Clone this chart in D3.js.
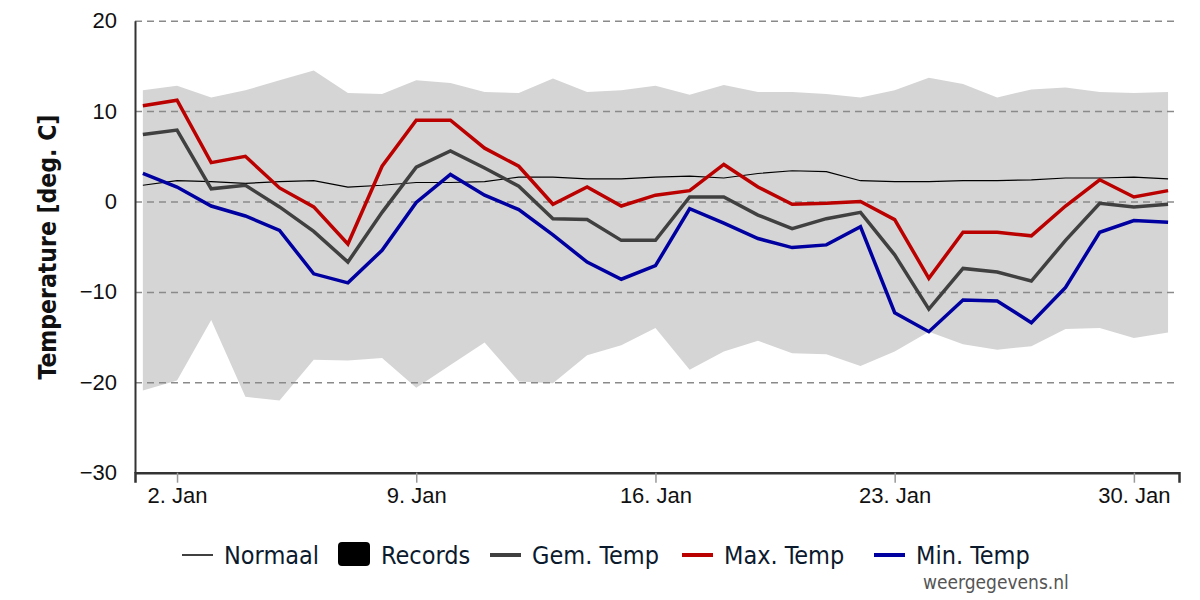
<!DOCTYPE html>
<html>
<head>
<meta charset="utf-8">
<script src="https://cdn.jsdelivr.net/npm/d3@7"></script>
<style>
  html, body { margin: 0; padding: 0; background: #fff; }
  svg { display: block; font-family: "DejaVu Sans Condensed", "DejaVu Sans", sans-serif; font-stretch: condensed; }
</style>
</head>
<body>
<svg id="chart" width="1200" height="600"></svg>
<script>
// ---- data ----
const days = d3.range(1, 32);
const normaal = [1.8, 2.3, 2.2, 2.0, 2.2, 2.3, 1.6, 1.8, 2.1, 2.1, 2.2, 2.7, 2.7, 2.5, 2.5, 2.7, 2.8, 2.6, 3.1, 3.4, 3.3, 2.3, 2.2, 2.2, 2.3, 2.3, 2.4, 2.6, 2.6, 2.7, 2.5];
const recordMax = [12.3, 12.8, 11.5, 12.3, 13.4, 14.5, 12.0, 11.9, 13.4, 13.1, 12.1, 12.0, 13.6, 12.1, 12.3, 12.8, 11.8, 12.9, 12.1, 12.1, 11.9, 11.5, 12.3, 13.7, 13.0, 11.5, 12.4, 12.6, 12.1, 12.0, 12.1];
const recordMin = [-20.9, -19.8, -13.1, -21.6, -22.0, -17.5, -17.6, -17.3, -20.6, -18.1, -15.6, -19.9, -20.1, -17.0, -15.9, -14.0, -18.6, -16.6, -15.4, -16.8, -16.9, -18.2, -16.6, -14.4, -15.8, -16.4, -16.0, -14.1, -14.0, -15.1, -14.5];
const gemTemp = [7.4, 7.9, 1.4, 1.8, -0.6, -3.3, -6.7, -1.2, 3.8, 5.6, 3.7, 1.7, -1.9, -2.0, -4.3, -4.3, 0.5, 0.5, -1.5, -3.0, -1.9, -1.2, -5.9, -11.9, -7.4, -7.8, -8.8, -4.3, -0.2, -0.6, -0.3];
const maxTemp = [10.6, 11.2, 4.3, 5.0, 1.5, -0.6, -4.7, 3.9, 9.0, 9.0, 5.9, 3.9, -0.3, 1.6, -0.5, 0.7, 1.2, 4.1, 1.6, -0.3, -0.2, 0.0, -2.0, -8.5, -3.4, -3.4, -3.8, -0.5, 2.4, 0.5, 1.2];
const minTemp = [3.1, 1.6, -0.5, -1.6, -3.2, -8.0, -9.0, -5.4, -0.1, 3.0, 0.7, -0.9, -3.7, -6.7, -8.6, -7.1, -0.8, -2.4, -4.1, -5.1, -4.8, -2.8, -12.3, -14.4, -10.9, -11.0, -13.4, -9.5, -3.4, -2.1, -2.3];
const xTicks = [2, 9, 16, 23, 30];
const yTicks = [-30, -20, -10, 0, 10, 20];
const legendItems = [
  { label: "Normaal", type: "thin", color: "#000000" },
  { label: "Records", type: "box", color: "#000000" },
  { label: "Gem. Temp", type: "line", color: "#404040" },
  { label: "Max. Temp", type: "line", color: "#bb0000" },
  { label: "Min. Temp", type: "line", color: "#0000a0" }
];

// ---- layout ----
const svg = d3.select("#chart");
const mLeft = 135, mRight = 1179, mTop = 20.7, mBottom = 472.7;

const x = d3.scaleLinear().domain([0.77, 31.32]).range([mLeft, mRight]);
const y = d3.scaleLinear().domain([-30, 20]).range([mBottom, mTop]);

// records band
const band = days.map((d, i) => ({ d, hi: recordMax[i], lo: recordMin[i] }));
svg.append("path")
  .datum(band)
  .attr("fill", "#d5d5d5")
  .attr("d", d3.area().x(p => x(p.d)).y0(p => y(p.lo)).y1(p => y(p.hi)));

// gridlines
const grid = svg.append("g")
  .attr("transform", `translate(${mLeft},0)`)
  .call(d3.axisLeft(y).tickValues(yTicks.filter(v => v > -30)).tickSize(-(1178 - mLeft)).tickFormat(""));
grid.select(".domain").remove();
grid.selectAll("line").attr("stroke", "#8a8a8a").attr("stroke-width", 1.5).attr("stroke-dasharray", "7,5");

// series lines
const line = d3.line().x((v, i) => x(days[i])).y(v => y(v));
function drawLine(values, color, width) {
  svg.append("path").datum(values)
    .attr("fill", "none").attr("stroke", color).attr("stroke-width", width)
    .attr("stroke-linejoin", "miter").attr("d", line);
}
drawLine(normaal, "#000000", 1.2);
drawLine(gemTemp, "#404040", 3.5);
drawLine(maxTemp, "#bb0000", 3.5);
drawLine(minTemp, "#0000a0", 3.5);

// y axis
const yAxis = svg.append("g")
  .attr("transform", `translate(${mLeft},0)`)
  .call(d3.axisLeft(y).tickValues(yTicks).tickSize(0).tickPadding(18).tickFormat(d => d < 0 ? "\u2212" + Math.abs(d) : d));
yAxis.select(".domain").attr("stroke", "#333").attr("stroke-width", 2);
yAxis.selectAll("text").attr("font-size", 22).attr("fill", "#111").attr("font-family", "inherit");

// x axis
const xAxis = svg.append("g")
  .attr("transform", `translate(0,${mBottom})`)
  .call(d3.axisBottom(x).tickValues(xTicks).tickSize(10).tickPadding(5).tickFormat(d => d + ". Jan"));
xAxis.select(".domain").attr("stroke", "#333").attr("stroke-width", 2.5);
xAxis.selectAll(".tick line").attr("stroke", "#999").attr("stroke-width", 1.5);
xAxis.selectAll("text").attr("font-size", 22).attr("fill", "#111").attr("font-family", "inherit");

// y label
svg.append("text")
  .attr("transform", "translate(56,247) rotate(-90)")
  .attr("text-anchor", "middle")
  .attr("font-weight", "bold")
  .attr("font-size", 24.5)
  .attr("fill", "#111")
  .text("Temperature [deg. C]");

// legend
const legendX = [182, 338, 490, 682, 874];
const lg = svg.append("g");
legendItems.forEach((it, i) => {
  const g = lg.append("g").attr("transform", `translate(${legendX[i]},555)`);
  let tx;
  if (it.type === "box") {
    g.append("rect").attr("x", 0).attr("y", -13).attr("width", 32).attr("height", 24).attr("rx", 4).attr("fill", it.color);
    tx = 43;
  } else {
    g.append("line").attr("x1", 0).attr("x2", 31).attr("y1", 0).attr("y2", 0)
      .attr("stroke", it.color).attr("stroke-width", it.type === "thin" ? 1.5 : 4);
    tx = 42;
  }
  g.append("text").attr("x", tx).attr("y", 9).attr("font-size", 25).attr("fill", "#0c1a2e").text(it.label);
});

svg.append("text").attr("x", 923).attr("y", 589).attr("text-anchor", "start")
  .attr("font-size", 19).attr("fill", "#555").text("weergegevens.nl");
</script>
</body>
</html>
